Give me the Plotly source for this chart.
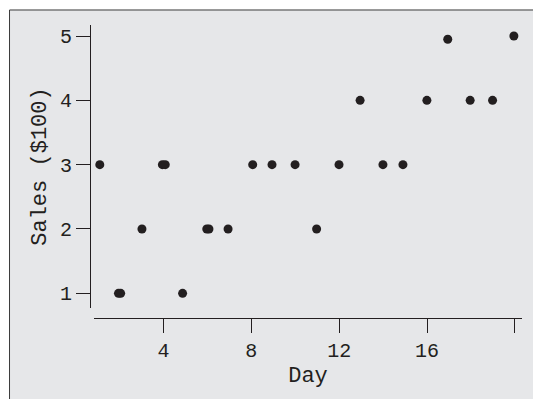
import plotly.graph_objects as go

# Daily sales observations (sales in hundreds of dollars)
days = [1.1, 1.95, 2.05, 3.02, 3.95, 4.08, 4.87, 5.97, 6.07, 6.94, 8.06, 8.94,
        9.99, 10.97, 11.99, 12.95, 13.99, 14.9, 15.99, 16.94, 17.96, 18.98, 19.95]
sales = [3, 1, 1, 2, 3, 3, 1, 2, 2, 2, 3, 3,
         3, 2, 3, 4, 3, 3, 4, 4.95, 4, 4, 5]

x_tickvals = [4, 8, 12, 16, 20]
x_ticktext = ["4", "8", "12", "16", ""]
y_tickvals = [1, 2, 3, 4, 5]
y_ticktext = ["1", "2", "3", "4", "5"]

INK = "#231f20"
BG = "#e6e7e9"
FRAME = "#3a3a3a"
FONT = "Liberation Mono, Courier New, monospace"

fig = go.Figure(
    go.Scatter(
        x=days, y=sales, mode="markers",
        marker=dict(size=9, color=INK, line=dict(width=0)),
        cliponaxis=False, hoverinfo="skip",
    )
)

axis_common = dict(
    showline=True, linecolor=INK, linewidth=1.2,
    ticks="outside", ticklen=14, tickwidth=1, tickcolor=INK,
    showgrid=False, zeroline=False,
    tickfont=dict(family=FONT, size=20, color=INK),
    anchor="free", position=0,
)

# panel edge (paper coordinates): left and top border of the grey panel
PX0, PY1 = -0.1863, 1.0512

fig.update_layout(
    width=533, height=399,
    margin=dict(l=90, r=11, t=25, b=81),
    paper_bgcolor=BG,
    plot_bgcolor="rgba(0,0,0,0)",
    showlegend=False,
    font=dict(family=FONT, color=INK),
    xaxis=dict(
        axis_common, domain=[0.0093, 1], range=[0.837, 20.32],
        tickmode="array", tickvals=x_tickvals, ticktext=x_ticktext,
        title=dict(text="Day", font=dict(family=FONT, size=22, color=INK), standoff=4),
    ),
    yaxis=dict(
        axis_common, domain=[0.034, 1], range=[0.771, 5.171],
        tickmode="array", tickvals=y_tickvals, ticktext=y_ticktext,
        title=dict(text="Sales ($100)", font=dict(family=FONT, size=22, color=INK), standoff=6),
    ),
    shapes=[
        # white margin strips outside the panel
        dict(type="rect", xref="paper", yref="paper", layer="above",
             x0=-0.5, x1=PX0, y0=-0.5, y1=1.5, fillcolor="white", line=dict(width=0)),
        dict(type="rect", xref="paper", yref="paper", layer="above",
             x0=-0.5, x1=1.5, y0=PY1, y1=1.5, fillcolor="white", line=dict(width=0)),
        # panel border
        dict(type="line", xref="paper", yref="paper", layer="above",
             x0=PX0, x1=PX0, y0=-0.5, y1=PY1, line=dict(color=FRAME, width=1)),
        dict(type="line", xref="paper", yref="paper", layer="above",
             x0=PX0, x1=1.5, y0=PY1, y1=PY1, line=dict(color=FRAME, width=1)),
    ],
)

fig.write_html("out.html")
